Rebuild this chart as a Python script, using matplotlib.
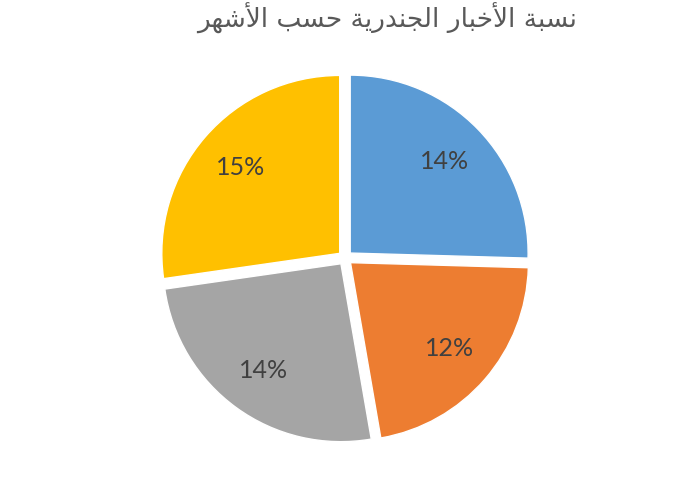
import matplotlib
matplotlib.use("Agg")
import matplotlib.pyplot as plt

# values shown on the slices (percent)
values = [14, 12, 14, 15]
labels = ["14%", "12%", "14%", "15%"]
colors = ["#5B9BD5", "#ED7D31", "#A5A5A5", "#FFC000"]

# "نسبة الأخبار الجندرية حسب الأشهر" shaped by hand (presentation forms, visual order)
title_logical = "نسبة الأخبار الجندرية حسب الأشهر"
title_shaped = ("\uFEE7\uFEB4\uFE92\uFE94 "
                "\uFE8D\uFEF7\uFEA7\uFE92\uFE8E\uFEAD "
                "\uFE8D\uFEDF\uFEA0\uFEE8\uFEAA\uFEAD\uFEF3\uFE94 "
                "\uFEA3\uFEB4\uFE90 "
                "\uFE8D\uFEF7\uFEB7\uFEEC\uFEAE")[::-1]

fig = plt.figure(figsize=(7, 5), dpi=100)
ax = fig.add_axes([0.188, 0.057, 0.61, 0.854])

wedges, texts = ax.pie(values, labels=labels, colors=colors, startangle=90,
                       counterclock=False, explode=[0.04] * 4,
                       labeldistance=0.74,
                       wedgeprops=dict(edgecolor="white", linewidth=1))
for t in texts:
    t.set_ha("center")
    t.set_va("center")
    t.set_fontsize(18)
    t.set_color("#404040")
    t.set_family("Lato")

ax.set_xlim(-1.2, 1.2)
ax.set_ylim(-1.2, 1.2)
ax.set_aspect("equal")
ax.axis("off")

fig.text(387 / 700, 1 - 3 / 500, title_shaped, ha="center", va="top",
         fontsize=19, color="#595959", family="DejaVu Sans")

fig.savefig("out.png", dpi=100)
